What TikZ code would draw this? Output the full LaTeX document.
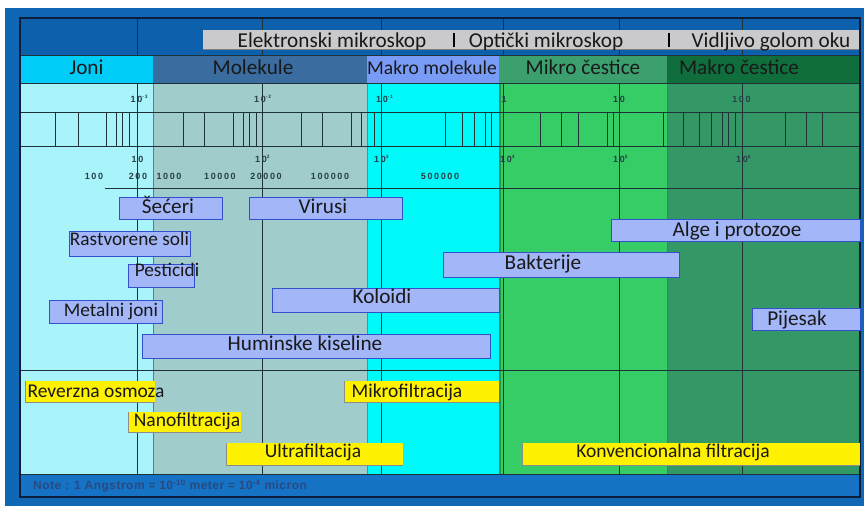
\documentclass[tikz,border=0pt]{standalone}
\usepackage{fontspec}
\setmainfont{Carlito}
\newfontfamily\numfont[LetterSpace=18]{Liberation Sans}
\newfontfamily\notefont[LetterSpace=4]{Liberation Sans}
\definecolor{outerblue}{RGB}{16,104,180}
\definecolor{headblue}{RGB}{12,96,172}
\definecolor{noteblue}{RGB}{22,114,196}
\definecolor{frame}{RGB}{12,30,60}
\definecolor{catjoni}{RGB}{0,204,248}
\definecolor{catmol}{RGB}{58,108,160}
\definecolor{catmakmol}{RGB}{120,155,245}
\definecolor{catmikro}{RGB}{60,160,110}
\definecolor{catmakro}{RGB}{15,110,60}
\definecolor{bodyjoni}{RGB}{168,244,250}
\definecolor{bodymol}{RGB}{160,204,204}
\definecolor{bodymakmol}{RGB}{0,250,250}
\definecolor{bodymikro}{RGB}{54,204,102}
\definecolor{bodymakro}{RGB}{52,152,102}
\definecolor{gridc}{RGB}{30,50,55}
\definecolor{micgrey}{RGB}{202,202,204}
\definecolor{pfill}{RGB}{162,182,248}
\definecolor{pedge}{RGB}{50,80,205}
\definecolor{numc}{RGB}{40,62,72}
\definecolor{notec}{RGB}{40,74,128}
\tikzset{
  gridline/.style={draw=gridc, line width=0.8pt},
  lbl/.style={font=\fontsize{21.2}{25}\selectfont, text=black!90, text height=13.7pt, text depth=0pt, inner sep=0pt, anchor=center},
  slbl/.style={lbl, font=\fontsize{19.3}{23}\selectfont, text height=12.5pt},
  flbl/.style={lbl, font=\fontsize{19.5}{23}\selectfont, text height=12.6pt},
  pbox/.style={fill=pfill, draw=pedge, line width=0.9pt},
  ybox/.style={fill=yellow},
  yshadow/.style={draw=black!45, line width=0.8pt},
  scl/.style={font=\numfont\bfseries\fontsize{9}{10}\selectfont, text=numc, inner sep=0pt, anchor=center}
}
\newcommand{\ssup}[1]{\rlap{\raisebox{3.8pt}{\fontsize{4.8}{5}\selectfont #1}}}
\begin{document}
\begin{tikzpicture}[x=1pt,y=-1pt]
\useasboundingbox (0,0) rectangle (864,506);
\fill[white] (0,0) rectangle (864,506);
\fill[outerblue] (5,8) rectangle (864,506);
% header row
\fill[headblue] (20,18) rectangle (860,55);
% body columns
\fill[bodyjoni] (20,83) rectangle (153,474);
\fill[bodymol] (153,83) rectangle (367,474);
\fill[bodymakmol] (367,83) rectangle (499,474);
\fill[bodymikro] (499,83) rectangle (667,474);
\fill[bodymakro] (667,83) rectangle (860,474);
\draw[line width=1pt, draw={rgb,255:red,40;green,140;blue,200}] (153,83) -- (153,474);
\draw[line width=0.8pt, draw={rgb,255:red,20;green,170;blue,170}] (367,83) -- (367,474);
\draw[line width=1.5pt, draw={rgb,255:red,40;green,150;blue,80}] (500,83) -- (500,474);
\draw[line width=0.8pt, draw={rgb,255:red,40;green,140;blue,110}] (667,83) -- (667,474);
% note band
\fill[noteblue] (20,474) rectangle (860,497);
% major decade lines
\foreach \x in {137,262,381,503,619,742} \draw[gridline] (\x,18) -- (\x,474);
% category row
\fill[catjoni] (20,55) rectangle (153,83);
\fill[catmol] (153,55) rectangle (367,83);
\fill[catmakmol] (367,55) rectangle (499,83);
\fill[catmikro] (499,55) rectangle (667,83);
\fill[catmakro] (667,55) rectangle (860,83);
% horizontal lines
\draw[gridline] (20,55) -- (860,55);
\draw[gridline] (20,83) -- (860,83);
\draw[gridline] (20,112) -- (860,112);
\draw[gridline] (20,146) -- (860,146);
\draw[gridline] (105,188) -- (860,188);
\draw[gridline] (20,370) -- (860,370);
\draw[gridline] (20,474) -- (860,474);
% minor ticks
\foreach \x in {55,78,106,116,122,129,183,204,233,243,249,256,301,322,351,361,374,445,462,474,485,491,540,561,578,607,613,663,683,699,711,722,728,735,785,806,822}
  \draw[gridline] (\x,112) -- (\x,146);
% frame
\draw[frame, line width=1.6pt] (20,18) rectangle (860,497);
% microscope bar
\fill[micgrey] (203,30) rectangle (859,49);
\draw[black!50, line width=0.6pt] (203,49) -- (859,49);
\draw[black, line width=1.4pt] (454,33) -- (454,47);
\draw[black, line width=1.4pt] (669,33) -- (669,47);
\node[lbl] (elek) at (332,40.5) {Elektronski mikroskop};
\node[lbl] (opt) at (546,40.5) {Optički mikroskop};
\node[lbl] (vid) at (771,40.5) {Vidljivo golom oku};
% category labels
\node[lbl] (joni) at (86.5,68) {Joni};
\node[lbl] (mol) at (253,68) {Molekule};
\node[lbl, font=\fontsize{19.6}{23}\selectfont] (makmol) at (432,68) {Makro molekule};
\node[lbl] (mik) at (583,68) {Mikro čestice};
\node[lbl] (mak) at (739,68) {Makro čestice};
% scale labels, micron
\node[scl] (u1) at (136.5,99) {10\ssup{-3}};
\node[scl] (u2) at (260,99) {10\ssup{-2}};
\node[scl] (u3) at (382,99) {10\ssup{-1}};
\node[scl] (u4) at (504,99) {1};
\node[scl] (u5) at (619,99) {10};
\node[scl] (u6) at (741.5,99) {100};
% scale labels, Angstrom
\node[scl] (a1) at (137.5,159) {10};
\node[scl] (a2) at (261,159) {10\ssup{2}};
\node[scl] (a3) at (380,159) {10\ssup{3}};
\node[scl] (a4) at (506,159) {10\ssup{4}};
\node[scl] (a5) at (619,159) {10\ssup{5}};
\node[scl] (a6) at (742,159) {10\ssup{6}};
% molecular weight
\node[scl] (m1) at (94,176) {100};
\node[scl] (m2) at (138,176) {200};
\node[scl] (m3) at (169,176) {1000};
\node[scl] (m4) at (220,176) {10000};
\node[scl] (m5) at (266,176) {20000};
\node[scl] (m6) at (330,176) {100000};
\node[scl] (m7) at (440,176) {500000};
% particle boxes
\draw[pbox] (119,197) rectangle (222,219);
\node[lbl] (sec) at (168,206.5) {Šećeri};
\draw[pbox] (249,197) rectangle (402,219);
\node[lbl] (vir) at (323,206.5) {Virusi};
\draw[pbox] (69,231) rectangle (190,256);
\node[slbl] (rast) at (129.5,239.5) {Rastvorene soli};
\draw[pbox] (128,264) rectangle (194,287);
\node[slbl] (pest) at (167,270) {Pesticidi};
\draw[pbox] (49,300) rectangle (162,323);
\node[slbl] (met) at (111,310) {Metalni joni};
\draw[pbox] (272,288) rectangle (499,312);
\node[lbl] (kol) at (382,297) {Koloidi};
\draw[pbox] (142,334) rectangle (490,358);
\node[lbl] (hum) at (305,344) {Huminske kiseline};
\draw[pbox] (611,219) rectangle (860,241);
\node[lbl] (alge) at (737,230) {Alge i protozoe};
\draw[pbox] (443,252) rectangle (679,277);
\node[lbl] (bakt) at (543,263) {Bakterije};
\draw[pbox] (752,308) rectangle (860,330);
\node[lbl] (pij) at (797,319) {Pijesak};
% filtration boxes
\fill[ybox] (25,381) rectangle (155,402);
\draw[yshadow] (25,381) -- (25,402) -- (155,402);
\node[flbl] (rev) at (96,391.5) {Reverzna osmoza};
\fill[ybox] (128,412) rectangle (241,432);
\draw[yshadow] (128,412) -- (128,432) -- (241,432);
\node[flbl] (nano) at (187,420) {Nanofiltracija};
\fill[ybox] (226,443) rectangle (403,465);
\draw[yshadow] (226,443) -- (226,465) -- (403,465);
\node[flbl] (ultra) at (313,451.5) {Ultrafiltacija};
\fill[ybox] (344,381) rectangle (499,402);
\draw[yshadow] (344,381) -- (344,402) -- (499,402);
\node[flbl] (mikf) at (407,391.5) {Mikrofiltracija};
\fill[ybox] (522,443) rectangle (860,465);
\draw[yshadow] (522,443) -- (522,465) -- (860,465);
\node[flbl] (konv) at (673,451.5) {Konvencionalna filtracija};
% note
\node[font=\notefont\bfseries\fontsize{12}{13}\selectfont, text=notec, anchor=west, inner sep=0pt] (note) at (33,486) {Note : 1 Angstrom = 10\textsuperscript{-10} meter = 10\textsuperscript{-4} micron};
\end{tikzpicture}
\end{document}
